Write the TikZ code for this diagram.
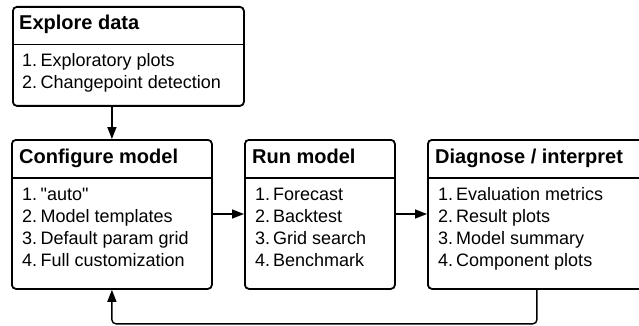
\documentclass[tikz,border=0pt]{standalone}
\usepackage{fontspec}
\setmainfont{Liberation Sans}
\usetikzlibrary{arrows.meta}
\begin{document}
\begin{tikzpicture}[x=1pt,y=-1pt,
    box/.style={draw, line width=1.8pt, rounded corners=4pt, anchor=north west, inner sep=0pt},
    rule/.style={line width=1.8pt},
    head/.style={font=\fontsize{20}{24}\selectfont\bfseries, anchor=base west, inner sep=0pt},
    entry/.style={font=\fontsize{18}{22}\selectfont, anchor=base west, inner sep=0pt},
    arr/.style={-{Triangle[length=12pt,width=9pt]}, line width=1.4pt}]
  \useasboundingbox (0,0) rectangle (639,326);
  % boxes
  \node[box, minimum width=231pt, minimum height=99pt] (explore) at (12,6) {};
  \node[box, minimum width=200pt, minimum height=149pt] (config) at (11,139) {};
  \node[box, minimum width=150pt, minimum height=149pt] (run) at (244,139) {};
  \node[box, minimum width=218pt, minimum height=149pt] (diag) at (427,139) {};
  % headers
  \node[head] (exploretitle) at (19,29.5) {Explore data};
  \node[head] (configtitle) at (19,163) {Configure model};
  \node[head] (runtitle) at (252,163) {Run model};
  \node[head] (diagtitle) at (435,163) {Diagnose / interpret};
  \draw[rule] (explore.west |- 0,44.5) -- (explore.east |- 0,44.5);
  \draw[rule] (config.west |- 0,178) -- (config.east |- 0,178);
  \draw[rule] (run.west |- 0,178) -- (run.east |- 0,178);
  \draw[rule] (diag.west |- 0,178) -- (diag.east |- 0,178);
  % lists
  \foreach \t [count=\k] in {Exploratory plots,Changepoint detection}
    \node[entry] (explore-\k) at (22,{44.5+22*\k}) {\makebox[18.5pt][l]{\k.}\t};
  \foreach \t [count=\k] in {\textquotedbl auto\textquotedbl,Model templates,Default param grid,Full customization}
    \node[entry] (config-\k) at (22,{178+22*\k}) {\makebox[18.5pt][l]{\k.}\t};
  \foreach \t [count=\k] in {Forecast,Backtest,Grid search,Benchmark}
    \node[entry] (run-\k) at (255,{178+22*\k}) {\makebox[18pt][l]{\k.}\t};
  \foreach \t [count=\k] in {Evaluation metrics,Result plots,Model summary,Component plots}
    \node[entry] (diag-\k) at (438,{178+22*\k}) {\makebox[18pt][l]{\k.}\t};
  % arrows
  \draw[arr] (explore.south -| config.north) -- (config.north);
  \draw[arr] (config.east |- 0,214) -- (run.west |- 0,214);
  \draw[arr] (run.east |- 0,214) -- (diag.west |- 0,214);
  \draw[arr, rounded corners=4pt] (diag.south) -- ++(0,34) -| (config.south);
\end{tikzpicture}
\end{document}
